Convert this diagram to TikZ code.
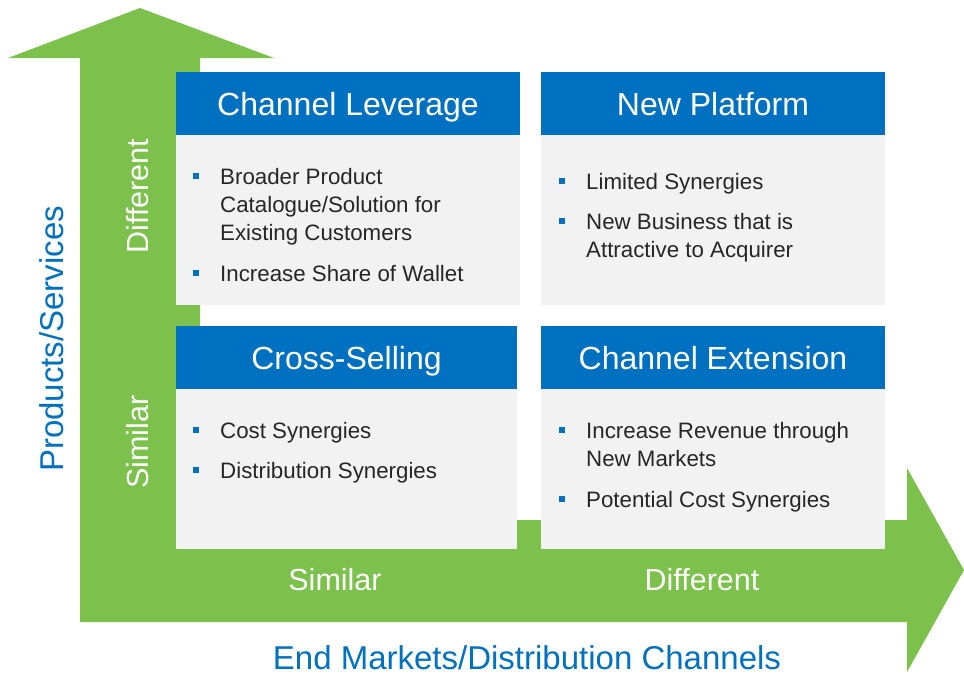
\documentclass[tikz,border=0pt]{standalone}
\usepackage{fontspec}
\setmainfont{Liberation Sans}
\usetikzlibrary{positioning}

\definecolor{arrgreen}{RGB}{123,193,75}
\definecolor{hdblue}{RGB}{0,112,192}
\definecolor{bodygray}{RGB}{242,242,242}
\definecolor{txtgray}{RGB}{38,38,38}

\tikzset{
  head/.style={fill=hdblue,text=white,minimum width=344pt,minimum height=63pt,inner sep=0pt,
    text height=26pt,text depth=2pt,font=\fontsize{32}{38}\selectfont},
  body/.style={fill=bodygray,minimum width=344pt,inner sep=0pt},
  pt/.style={anchor=north west,align=left,inner sep=0pt,text=txtgray,font=\fontsize{22.3}{28}\selectfont,label={[bul]north west:{}}},
  bul/.style={fill=hdblue,minimum size=6pt,inner sep=0pt,anchor=center,xshift=-24pt,yshift=-8pt},
  axlab/.style={text=white,font=\fontsize{30.5}{36}\selectfont},
  axtitle/.style={text=hdblue,font=\fontsize{33}{40}\selectfont},
}

\begin{document}
\begin{tikzpicture}[x=1pt,y=-1pt]
\useasboundingbox (0,0) rectangle (964,675);

% the two axes as one green L arrow
\fill[arrgreen] (140,8) -- (274,58) -- (200,58) -- (200,520) -- (907,520) -- (907,468)
  -- (964,570) -- (907,672) -- (907,622) -- (80,622) -- (80,58) -- (8,58) -- cycle;

% quadrants
\node[head] (cl) at (348,103.5) {Channel Leverage};
\node[body,minimum height=170pt,below=0pt of cl] (clb) {};
\node[head] (np) at (713,103.5) {New Platform};
\node[body,minimum height=170pt,below=0pt of np] (npb) {};
\node[head,minimum width=341pt] (cs) at (346.5,357.5) {Cross-Selling};
\node[body,minimum width=341pt,minimum height=160pt,below=0pt of cs] (csb) {};
\node[head] (ce) at (713,357.5) {Channel Extension};
\node[body,minimum height=160pt,below=0pt of ce] (ceb) {};

\node[pt] (cl1) at (220,168) {Broader Product\\Catalogue/Solution for\\Existing Customers};
\node[pt] (cl2) at (220,265) {Increase Share of Wallet};
\node[pt] (np1) at (586,173) {Limited Synergies};
\node[pt] (np2) at (586,213) {New Business that is\\Attractive to Acquirer};
\node[pt] (cs1) at (220,422) {Cost Synergies};
\node[pt] (cs2) at (220,462) {Distribution Synergies};
\node[pt] (ce1) at (586,422) {Increase Revenue through\\New Markets};
\node[pt] (ce2) at (586,491) {Potential Cost Synergies};

% axis labels
\node[axlab,rotate=90] (ydiff) at (138,196) {Different};
\node[axlab,rotate=90] (ysim) at (138,442) {Similar};
\node[axlab] (xsim) at (335,580) {Similar};
\node[axlab] (xdiff) at (702,580) {Different};
\node[axtitle,rotate=90] (ytitle) at (52,339) {Products/Services};
\node[axtitle] (xtitle) at (527,658) {End Markets/Distribution Channels};

\end{tikzpicture}
\end{document}
